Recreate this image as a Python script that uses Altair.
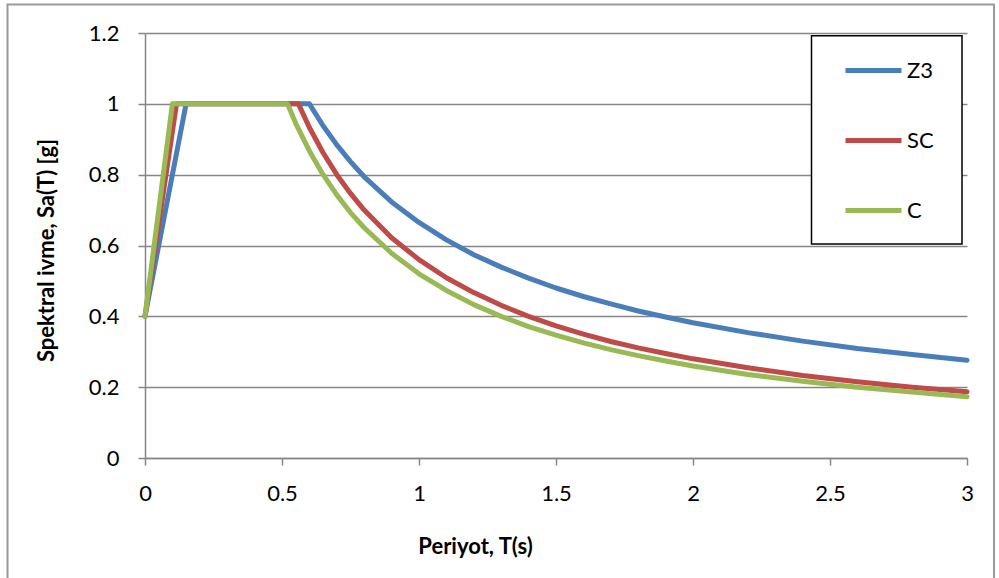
import altair as alt
import pandas as pd

series_names = ["Z3", "SC", "C"]
series_colors = ["#4A7EBB", "#BE4B48", "#98B954"]

t_z3 = [0, 0.15, 0.6, 0.65, 0.7, 0.75, 0.8, 0.9, 1.0, 1.1, 1.2, 1.3, 1.4, 1.5, 1.6, 1.7, 1.8, 1.9, 2.0, 2.2, 2.4, 2.6, 2.8, 3.0]
sa_z3 = [0.4, 1.0, 1.0, 0.938, 0.884, 0.837, 0.794, 0.723, 0.665, 0.616, 0.574, 0.539, 0.508, 0.480, 0.456, 0.435, 0.415, 0.398, 0.382, 0.354, 0.330, 0.309, 0.292, 0.276]

t_sc = [0, 0.115, 0.56, 0.6, 0.65, 0.7, 0.75, 0.8, 0.9, 1.0, 1.1, 1.2, 1.3, 1.4, 1.5, 1.6, 1.7, 1.8, 1.9, 2.0, 2.2, 2.4, 2.6, 2.8, 3.0]
sa_sc = [0.4, 1.0, 1.0, 0.933, 0.862, 0.8, 0.747, 0.7, 0.622, 0.56, 0.509, 0.467, 0.431, 0.4, 0.373, 0.35, 0.329, 0.311, 0.295, 0.28, 0.255, 0.233, 0.215, 0.2, 0.187]

t_c = [0, 0.10, 0.52, 0.55, 0.6, 0.65, 0.7, 0.75, 0.8, 0.9, 1.0, 1.1, 1.2, 1.3, 1.4, 1.5, 1.6, 1.7, 1.8, 1.9, 2.0, 2.2, 2.4, 2.6, 2.8, 3.0]
sa_c = [0.4, 1.0, 1.0, 0.945, 0.867, 0.8, 0.743, 0.693, 0.65, 0.578, 0.52, 0.473, 0.433, 0.4, 0.371, 0.347, 0.325, 0.306, 0.289, 0.274, 0.26, 0.236, 0.217, 0.2, 0.186, 0.173]

x_ticks = [0, 0.5, 1, 1.5, 2, 2.5, 3]
y_ticks = [0, 0.2, 0.4, 0.6, 0.8, 1.0, 1.2]

rows = []
for name, ts, vs in zip(series_names, [t_z3, t_sc, t_c], [sa_z3, sa_sc, sa_c]):
    for i, (t, v) in enumerate(zip(ts, vs)):
        rows.append({"T": t, "Sa": v, "Seri": name, "order": i})
df = pd.DataFrame(rows)

FONT = "Lato"
GRAY = "#868686"

one = pd.DataFrame({"a": [0]})

frame = alt.Chart(one).mark_rect(
    fill="transparent", stroke="#9A9A9A", strokeWidth=2
).encode(
    x=alt.value(-137.5), x2=alt.value(849), y=alt.value(-28.5), y2=alt.value(560)
)

legend_box = alt.Chart(one).mark_rect(
    fill="white", stroke="black", strokeWidth=1.5
).encode(
    x=alt.value(666.5), x2=alt.value(817), y=alt.value(2.7), y2=alt.value(211)
)

lines = alt.Chart(df).mark_line(strokeWidth=5, strokeCap="round", strokeJoin="round").encode(
    x=alt.X("T:Q", scale=alt.Scale(domain=[0, 3], nice=False),
            axis=alt.Axis(values=x_ticks, title="Periyot, T(s)", format="~g",
                          titleX=330, titleY=88, titleBaseline="middle")),
    y=alt.Y("Sa:Q", scale=alt.Scale(domain=[0, 1.2], nice=False),
            axis=alt.Axis(values=y_ticks, title="Spektral ivme, Sa(T) [g]", format="~g",
                          titleX=-99, titleY=217, titleBaseline="middle")),
    color=alt.Color("Seri:N",
                    scale=alt.Scale(domain=series_names, range=series_colors),
                    sort=series_names,
                    legend=alt.Legend(title=None, orient="none", legendX=666, legendY=2.5)),
    order="order:Q",
)

chart = alt.layer(lines, frame, legend_box).properties(
    width=822, height=425,
    padding={"left": 145, "top": 33, "right": 32, "bottom": 120},
    autosize=alt.AutoSizeParams(type="none"),
).configure_view(stroke=None).configure_axis(
    labelFont=FONT, titleFont=FONT, labelFontSize=22, titleFontSize=22,
    labelColor="black", titleColor="black", titleFontWeight="bold",
    grid=True, gridColor=GRAY, gridWidth=1.5, labelFlush=False,
    domainColor=GRAY, domainWidth=1.5, tickColor=GRAY, tickWidth=1.5, tickSize=7,
).configure_axisX(
    grid=False, labelPadding=28, labelBaseline="middle",
).configure_axisY(
    labelPadding=19,
).configure_legend(
    labelFont=FONT, labelFontSize=22, labelColor="black",
    symbolType="stroke", symbolSize=3136, symbolStrokeWidth=5,
    symbolOffset=20, labelOffset=3, rowPadding=24, padding=12, clipHeight=46,
    strokeColor="transparent", fillColor="transparent",
)

chart.save("out.html", embed_options={"renderer": "svg", "actions": False})
